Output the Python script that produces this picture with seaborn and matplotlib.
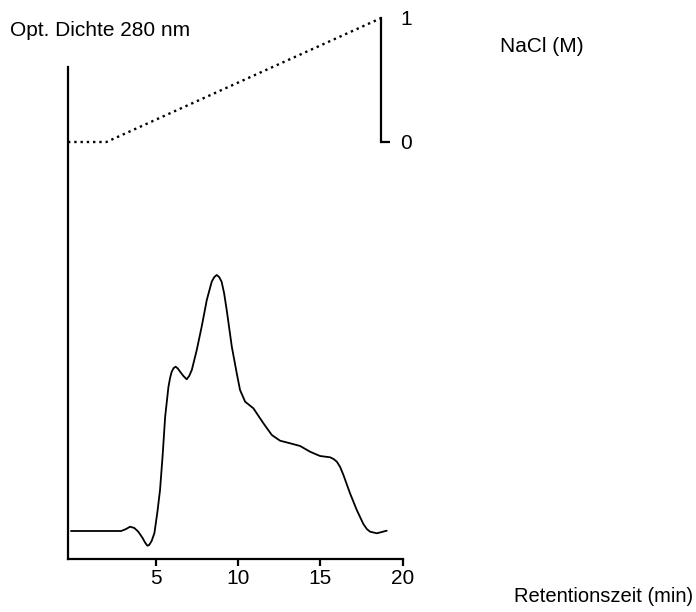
import matplotlib
matplotlib.use("Agg")
import matplotlib.pyplot as plt
import seaborn as sns
import pandas as pd

sns.set_theme(style="white")
plt.rcParams['font.family'] = ['Liberation Sans', 'DejaVu Sans']
plt.rcParams['text.color'] = 'black'
plt.rcParams['xtick.color'] = 'black'
plt.rcParams['ytick.color'] = 'black'

# Chromatogram (retention time in min, optical density, arbitrary units)
time_min = [-0.15, 2.9, 3.2, 3.44, 3.7, 3.94, 4.2, 4.35, 4.49, 4.6, 4.75, 4.92, 5.1,
            5.26, 5.42, 5.57, 5.77, 5.87, 5.97, 6.09, 6.21, 6.34, 6.48, 6.68, 6.88,
            7.03, 7.19, 7.49, 7.79, 8.1, 8.4, 8.55, 8.7, 8.85, 9.0, 9.15, 9.31, 9.62,
            9.92, 10.12, 10.43, 10.93, 11.54, 12.05, 12.55, 13.16, 13.77, 14.37, 14.98,
            15.59, 15.8, 16.0, 16.2, 16.4, 16.8, 17.21, 17.61, 17.82, 18.02, 18.43,
            19.03]
od_280 = [0.28, 0.28, 0.30, 0.323, 0.31, 0.273, 0.21, 0.165, 0.133, 0.14, 0.18, 0.26,
          0.47, 0.69, 1.04, 1.42, 1.72, 1.81, 1.873, 1.91, 1.923, 1.905, 1.873, 1.83,
          1.797, 1.83, 1.89, 2.09, 2.323, 2.59, 2.773, 2.818, 2.84, 2.82, 2.773, 2.66,
          2.49, 2.123, 1.857, 1.69, 1.573, 1.507, 1.357, 1.24, 1.183, 1.157, 1.13,
          1.073, 1.03, 1.017, 1.0, 0.973, 0.92, 0.84, 0.657, 0.49, 0.35, 0.30, 0.273,
          0.257, 0.283]

# NaCl gradient (M)
grad_time = [-0.33, 2.0, 18.7]
grad_nacl = [0.0, 0.0, 1.0]

x_ticks = [5, 10, 15, 20]
nacl_ticks = [0, 1]

df = pd.DataFrame({"t": time_min, "od": od_280})
dg = pd.DataFrame({"t": grad_time, "nacl": grad_nacl})

W, H = 696, 612
fig = plt.figure(figsize=(W / 100, H / 100), dpi=100)
fig.patch.set_facecolor("white")

left, right = 68, 402.7
ax = fig.add_axes([left / W, (H - 559) / H, (right - left) / W, (559 - 67) / H])
ax.set_facecolor("none")
sns.lineplot(data=df, x="t", y="od", ax=ax, color="black", linewidth=1.3)
for ln in ax.lines:
    ln.set_solid_joinstyle("round")
ax.set_xlim(-0.33, 20)
ax.set_ylim(0, 4.92)
ax.set_xticks(x_ticks)
ax.set_xticklabels([str(v) for v in x_ticks])
ax.set_yticks([])
ax.set_xlabel("")
ax.set_ylabel("")
for s in ["top", "right"]:
    ax.spines[s].set_visible(False)
for s in ["left", "bottom"]:
    ax.spines[s].set_color("black")
    ax.spines[s].set_linewidth(1.6)
ax.tick_params(axis="x", direction="out", length=5, width=1.6, color="black",
               labelsize=15, pad=2, bottom=True, labelcolor="black")

# gradient axes
ax2 = fig.add_axes([left / W, (H - 142) / H, (right - left) / W, (142 - 18) / H])
ax2.set_facecolor("none")
sns.lineplot(data=dg, x="t", y="nacl", ax=ax2, color="black", linewidth=1.7,
             linestyle=":")
for ln in ax2.lines:
    ln.set_clip_on(False)
ax2.set_xlim(-0.33, 20)
ax2.set_ylim(0, 1)
ax2.set_xticks([])
ax2.set_xlabel("")
ax2.set_ylabel("")
for s in ["top", "left", "bottom"]:
    ax2.spines[s].set_visible(False)
ax2.spines["right"].set_position(("data", 18.7))
ax2.spines["right"].set_bounds(0, 1)
ax2.spines["right"].set_linewidth(1.6)
ax2.spines["right"].set_color("black")
ax2.yaxis.tick_right()
ax2.set_yticks(nacl_ticks)
ax2.set_yticklabels([str(v) for v in nacl_ticks])
ax2.tick_params(axis="y", direction="out", length=6.5, width=1.6, color="black",
                labelsize=15, pad=7, right=True, left=False, labelcolor="black")
ax2.yaxis.get_major_ticks()[1].tick2line.set_visible(False)

fig.text(10 / W, 1 - 30 / H, "Opt. Dichte 280 nm", fontsize=15, ha="left", va="center")
fig.text(500 / W, 1 - 47 / H, "NaCl (M)", fontsize=15, ha="left", va="center")
fig.text(693 / W, 1 - 596 / H, "Retentionszeit (min)", fontsize=14.5, ha="right", va="center")

fig.savefig("out.png", dpi=100, facecolor="white")
